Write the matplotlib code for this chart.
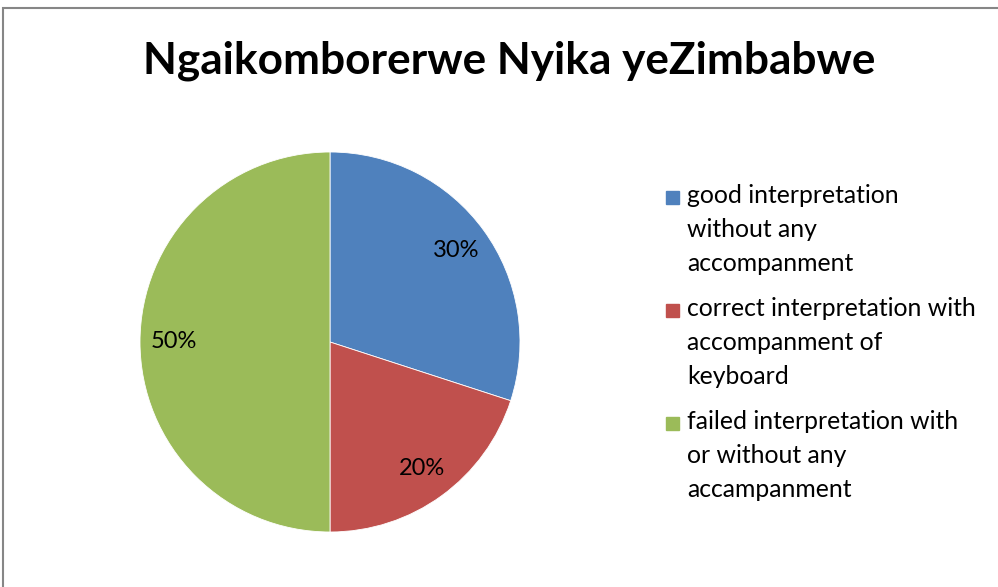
import matplotlib.pyplot as plt
from matplotlib.patches import Rectangle

# Datos
categorias = [
    "good interpretation\nwithout any\naccompanment",
    "correct interpretation with\naccompanment of\nkeyboard",
    "failed interpretation with\nor without any\naccampanment",
]
porcentajes = [30, 20, 50]
colores = ["#4F81BD", "#C0504D", "#9BBB59"]
titulo = "Ngaikomborerwe Nyika yeZimbabwe"

plt.rcParams['font.family'] = ['Lato', 'DejaVu Sans']

W, H = 998, 587
fig = plt.figure(figsize=(W / 100, H / 100), dpi=100)

# marco gris alrededor del gráfico
fig.patches.append(Rectangle((3 / W, -0.05), 1.1, (H - 8) / H + 0.05,
                             transform=fig.transFigure, fill=False,
                             edgecolor="#868686", linewidth=1.5))

# Pastel: centro (330, 342) px, radio 190 px
cx, cy, r = 330, H - 342, 190
ax = fig.add_axes([(cx - r) / W, (cy - r) / H, 2 * r / W, 2 * r / H])
ax.pie(porcentajes, colors=colores, startangle=90, counterclock=False,
       autopct='%1.0f%%', pctdistance=0.82, radius=1,
       wedgeprops={'edgecolor': 'white', 'linewidth': 0.6},
       textprops={'fontsize': 17, 'color': 'black'})
ax.set_xlim(-1, 1)
ax.set_ylim(-1, 1)
ax.set_aspect('equal')
ax.axis('off')

fig.text(509 / W, 1 - 61 / H, titulo, ha='center', va='center',
         fontsize=31.8, fontweight='bold')

# Leyenda
y0 = 197
for i, (cat, col) in enumerate(zip(categorias, colores)):
    y = y0 + i * 113
    fig.patches.append(Rectangle((666 / W, 1 - (y + 6.5) / H), 13 / W, 13 / H,
                                 transform=fig.transFigure, color=col))
    fig.text(687 / W, 1 - (y - 13) / H, cat, ha='left', va='top',
             fontsize=17.8, linespacing=1.59)

plt.savefig('out.png', dpi=100)
